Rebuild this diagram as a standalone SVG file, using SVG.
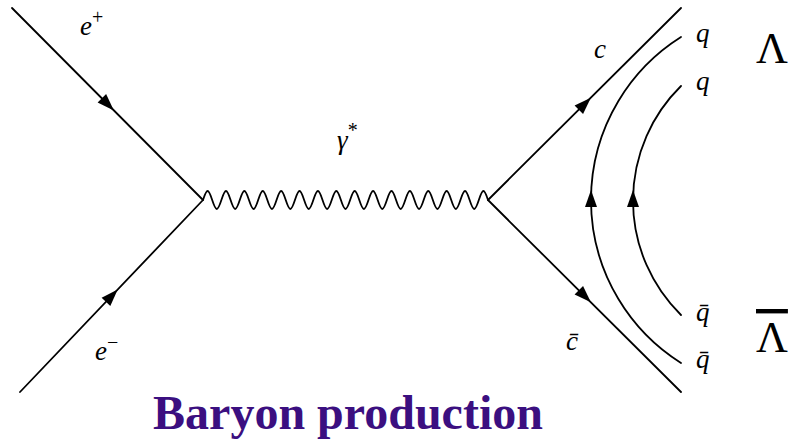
<svg xmlns="http://www.w3.org/2000/svg" xmlns:xlink="http://www.w3.org/1999/xlink" width="791" height="441" viewBox="0 0 791 441">
<style>
.ln{fill:none;stroke:#000;stroke-width:1.8;stroke-linecap:round}
.wv{fill:none;stroke:#000;stroke-width:1.8}
.ar{fill:#000}
.lb{font-family:"Liberation Serif","Times New Roman",serif;font-style:italic;font-size:27px;fill:#000}
.sup{font-size:20px;font-style:normal}
.big{font-family:"Liberation Serif","Times New Roman",serif;font-size:44px;fill:#000}
.title{font-family:"Liberation Serif","Times New Roman",serif;font-weight:bold;font-size:48px;fill:#3b0f80}
</style>
<defs>
<path id="ah" d="M9,0 L-8,-6 L-8,6 Z"/>
</defs>
<rect width="791" height="441" fill="#fff"/>
<g id="connectors">
<line class="ln" x1="12" y1="8" x2="203" y2="200"/>
<line class="ln" x1="20" y1="392" x2="203" y2="200"/>
<line class="ln" x1="488" y1="200" x2="681" y2="8"/>
<line class="ln" x1="488" y1="200" x2="681" y2="392"/>
<path class="wv" d="M203,200 c3.9,-12 5.294,-12 9.194,0 s5.294,12 9.194,0 s5.294,-12 9.194,0 s5.294,12 9.194,0 s5.294,-12 9.194,0 s5.294,12 9.194,0 s5.294,-12 9.194,0 s5.294,12 9.194,0 s5.294,-12 9.194,0 s5.294,12 9.194,0 s5.294,-12 9.194,0 s5.294,12 9.194,0 s5.294,-12 9.194,0 s5.294,12 9.194,0 s5.294,-12 9.194,0 s5.294,12 9.194,0 s5.294,-12 9.194,0 s5.294,12 9.194,0 s5.294,-12 9.194,0 s5.294,12 9.194,0 s5.294,-12 9.194,0 s5.294,12 9.194,0 s5.294,-12 9.194,0 s5.294,12 9.194,0 s5.294,-12 9.194,0 s5.294,12 9.194,0 s5.294,-12 9.194,0 s5.294,12 9.194,0 s5.294,-12 9.194,0 s5.294,12 9.194,0 s5.294,-12 9.194,0"/>
<path class="ln" d="M681,37 A192.6,192.6 0 0,0 681,363"/>
<path class="ln" d="M681,86 A160.6,160.6 0 0,0 681,315"/>
<use class="ar" xlink:href="#ah" transform="translate(107.5,104) rotate(45.15)"/>
<use class="ar" xlink:href="#ah" transform="translate(111.5,296) rotate(-46.4)"/>
<use class="ar" xlink:href="#ah" transform="translate(584.5,104) rotate(-44.85)"/>
<use class="ar" xlink:href="#ah" transform="translate(584.5,296) rotate(44.85)"/>
<use class="ar" xlink:href="#ah" transform="translate(591,199) rotate(-90)"/>
<use class="ar" xlink:href="#ah" transform="translate(633,199) rotate(-90)"/>
</g>
<g id="label-eplus"><text class="lb" x="80" y="35">e<tspan class="sup" dy="-11">+</tspan></text></g>
<g id="label-eminus"><text class="lb" x="95" y="360">e<tspan class="sup" dy="-11">−</tspan></text></g>
<g id="label-gamma"><text class="lb" x="337" y="149" font-size="32">γ<tspan class="sup" dy="-12">*</tspan></text></g>
<g id="label-c"><text class="lb" x="594" y="58">c</text></g>
<g id="label-cbar"><text class="lb" x="566" y="350">c̄</text></g>
<g id="label-q1"><text class="lb" x="696" y="42">q</text></g>
<g id="label-q2"><text class="lb" x="696" y="90">q</text></g>
<g id="label-qbar1"><text class="lb" x="696" y="321">q̄</text></g>
<g id="label-qbar2"><text class="lb" x="696" y="368">q̄</text></g>
<g id="label-lambda"><text class="big" x="756" y="63">Λ</text></g>
<g id="label-lambdabar"><text class="big" x="756" y="352" text-decoration="overline">Λ</text></g>
<g id="title"><text class="title" x="348" y="429" text-anchor="middle">Baryon production</text></g>
</svg>
